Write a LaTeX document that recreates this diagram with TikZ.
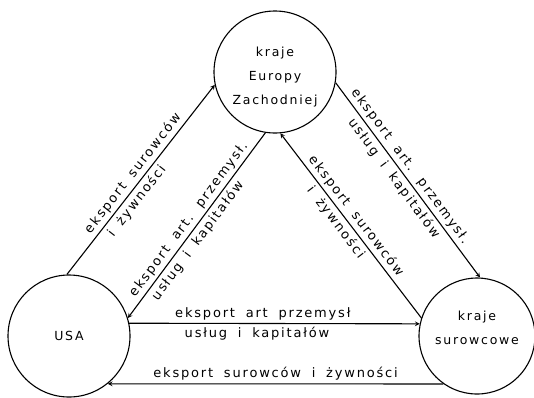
\documentclass[tikz,border=0pt]{standalone}
\usepackage{fontspec}
\setmainfont{DejaVu Sans}[LetterSpace=14, WordSpace=1.8]

\begin{document}
\begin{tikzpicture}[x=1pt, y=-1pt, >=stealth, line width=1.1pt]

\tikzstyle{kraj} = [circle, draw, minimum size=122pt, inner sep=0pt, font=\fontsize{12.5}{24}\selectfont]
\tikzstyle{opis} = [sloped, inner sep=3pt, font=\fontsize{13}{14}\selectfont]

\useasboundingbox (0,0) rectangle (534,397);

\node[kraj] (e) at (275,72) {\raisebox{-7pt}[0pt][0pt]{\begin{tabular}{@{}c@{}}kraje\\Europy\\Zachodniej\end{tabular}}};
\node[kraj] (u) at (69,336) {USA};
\node[kraj, minimum size=116pt] (s) at (477,336) {\raisebox{5pt}[0pt][0pt]{\begin{tabular}{@{}c@{}}kraje\\surowcowe\end{tabular}}};

\draw[->] (u.92) -- (e.192)
  node[opis, midway, above] (us1) {eksport surowców}
  node[opis, pos=0.42, below] (us2) {i żywności};
\draw[->] (e.261) -- (u.17)
  node[opis, midway, above] (eu1) {eksport art. przemysł.}
  node[opis, pos=0.55, below] (eu2) {usług i kapitałów};
\draw[->] (e.350) -- (s.87)
  node[opis, pos=0.46, above] (es1) {eksport art. przemysł.}
  node[opis, pos=0.46, below] (es2) {usług i kapitałów};
\draw[->] (s.162) -- (e.275)
  node[opis, pos=0.52, above] (se1) {eksport surowców}
  node[opis, pos=0.55, below] (se2) {i żywności};
\draw[->] (u.12) -- (s.168)
  node[opis, pos=0.46, above] (ua1) {eksport art przemysł}
  node[opis, pos=0.44, below] (ua2) {usług i kapitałów};
\draw[->] (s.235) -- (u.309)
  node[opis, midway, above] (su1) {eksport surowców i żywności};

\end{tikzpicture}
\end{document}
